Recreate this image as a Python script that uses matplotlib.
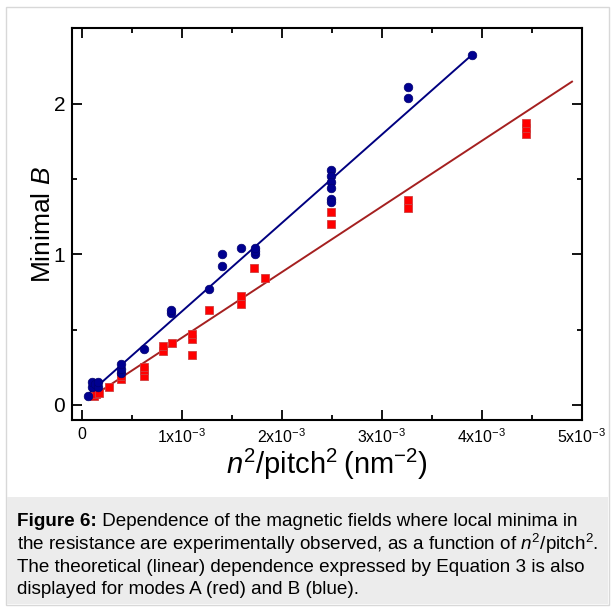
import matplotlib
matplotlib.use("Agg")
import matplotlib.pyplot as plt
from matplotlib.patches import Rectangle
from matplotlib.ticker import MultipleLocator, FixedLocator

plt.rcParams['font.family'] = ['Liberation Sans', 'DejaVu Sans']
plt.rcParams['mathtext.fontset'] = 'custom'
plt.rcParams['mathtext.rm'] = 'Liberation Sans'
plt.rcParams['mathtext.it'] = 'Liberation Sans:italic'
plt.rcParams['mathtext.bf'] = 'Liberation Sans:bold'

# ---- data (x in nm^-2) ----
modeB_x = [0.06e-3, 0.10e-3, 0.10e-3, 0.13e-3, 0.16e-3, 0.16e-3,
           0.39e-3, 0.39e-3, 0.39e-3, 0.62e-3, 0.89e-3, 0.89e-3,
           1.27e-3, 1.40e-3, 1.40e-3, 1.59e-3, 1.73e-3, 1.73e-3, 1.73e-3,
           2.49e-3, 2.49e-3, 2.49e-3, 2.49e-3, 2.49e-3, 2.49e-3,
           3.26e-3, 3.26e-3, 3.90e-3]
modeB_y = [0.057, 0.12, 0.15, 0.14, 0.12, 0.15,
           0.21, 0.24, 0.27, 0.37, 0.61, 0.63,
           0.77, 0.92, 1.00, 1.04, 1.00, 1.02, 1.04,
           1.56, 1.52, 1.48, 1.44, 1.37, 1.35,
           2.04, 2.11, 2.32]

modeA_x = [0.12e-3, 0.14e-3, 0.17e-3, 0.27e-3, 0.39e-3, 0.39e-3,
           0.62e-3, 0.62e-3, 0.62e-3, 0.81e-3, 0.81e-3, 0.90e-3,
           1.10e-3, 1.10e-3, 1.10e-3, 1.27e-3, 1.59e-3, 1.59e-3,
           1.72e-3, 1.83e-3, 2.49e-3, 2.49e-3, 3.26e-3, 3.26e-3,
           4.44e-3, 4.44e-3, 4.44e-3]
modeA_y = [0.06, 0.07, 0.08, 0.12, 0.17, 0.19,
           0.19, 0.23, 0.25, 0.36, 0.39, 0.41,
           0.44, 0.47, 0.33, 0.63, 0.67, 0.72,
           0.91, 0.84, 1.28, 1.20, 1.31, 1.36,
           1.80, 1.84, 1.87]

lineB_x = [0.05e-3, 3.90e-3]
lineB_y = [0.064, 2.324]
lineA_x = [0.12e-3, 4.90e-3]
lineA_y = [0.063, 2.146]

xticks = [0, 1e-3, 2e-3, 3e-3, 4e-3, 5e-3]
xticklabels = ['0', '1x10$^{-3}$', '2x10$^{-3}$', '3x10$^{-3}$', '4x10$^{-3}$', '5x10$^{-3}$']
yticks = [0, 1, 2]
yticklabels = ['0', '1', '2']

W, H = 615, 612
fig = plt.figure(figsize=(W / 100, H / 100), dpi=100)

def px(x0, y0, x1, y1):
    return (x0 / W, 1 - y1 / H, (x1 - x0) / W, (y1 - y0) / H)

# outer frame and caption box
l, b, w, h = px(6, 7, 609, 605)
fig.patches.append(Rectangle((l, b), w, h, transform=fig.transFigure,
                             facecolor='white', edgecolor='#d8d8d8', lw=1, zorder=-10))
l, b, w, h = px(7, 497, 608, 604)
fig.patches.append(Rectangle((l, b), w, h, transform=fig.transFigure,
                             facecolor='#ececec', edgecolor='none', zorder=-9))

ax = fig.add_axes(px(72, 28.3, 582, 420))
ax.set_zorder(1)
ax.patch.set_alpha(0)
ax.plot(lineB_x, lineB_y, color='#000080', lw=1.4, zorder=2)
ax.plot(lineA_x, lineA_y, color='#a52020', lw=1.4, zorder=2)
ax.plot(modeA_x, modeA_y, linestyle='none', marker='s', ms=5.2,
        mfc='#ff0000', mec='#d04040', mew=0.6, zorder=3)
ax.plot(modeB_x, modeB_y, linestyle='none', marker='o', ms=6.2,
        mfc='#000090', mec='#000070', mew=0.5, zorder=4)

ax.set_xlim(-0.1e-3, 5e-3)
ax.set_ylim(-0.1, 2.5)
ax.xaxis.set_major_locator(FixedLocator(xticks))
ax.set_xticklabels(xticklabels, fontsize=11.5)
ax.xaxis.set_minor_locator(MultipleLocator(0.5e-3))
ax.yaxis.set_major_locator(FixedLocator(yticks))
ax.set_yticklabels(yticklabels, fontsize=15)
ax.yaxis.set_minor_locator(MultipleLocator(0.5))
ax.tick_params(which='both', direction='in', top=True, right=True, width=1.3)
ax.tick_params(which='major', length=7, pad=5)
ax.tick_params(which='minor', length=3.5)
for s in ax.spines.values():
    s.set_linewidth(1.5)

ax.set_ylabel('Minimal $B$', fontsize=19, labelpad=-1)
ax.set_xlabel('$n^{2}$/pitch$^{2}$\u2009(nm$^{-2}$)', fontsize=21, labelpad=1)

# caption
fs = 13.6
t1 = fig.text(17 / W, 1 - 521 / H, 'Figure 6:', fontsize=fs, fontweight='bold', va='center')
ax.annotate(' Dependence of the magnetic fields where local minima in',
            xy=(1, 0.5), xycoords=t1, va='center', ha='left', fontsize=fs,
            annotation_clip=False)
fig.text(17 / W, 1 - 544 / H,
         'the resistance are experimentally observed, as a function of $n^{2}$/pitch$^{2}$.',
         fontsize=fs, va='center')
fig.text(17 / W, 1 - 567 / H,
         'The theoretical (linear) dependence expressed by Equation 3 is also',
         fontsize=fs, va='center')
fig.text(17 / W, 1 - 590 / H,
         'displayed for modes A (red) and B (blue).',
         fontsize=fs, va='center')

fig.savefig('out.png', dpi=100)
